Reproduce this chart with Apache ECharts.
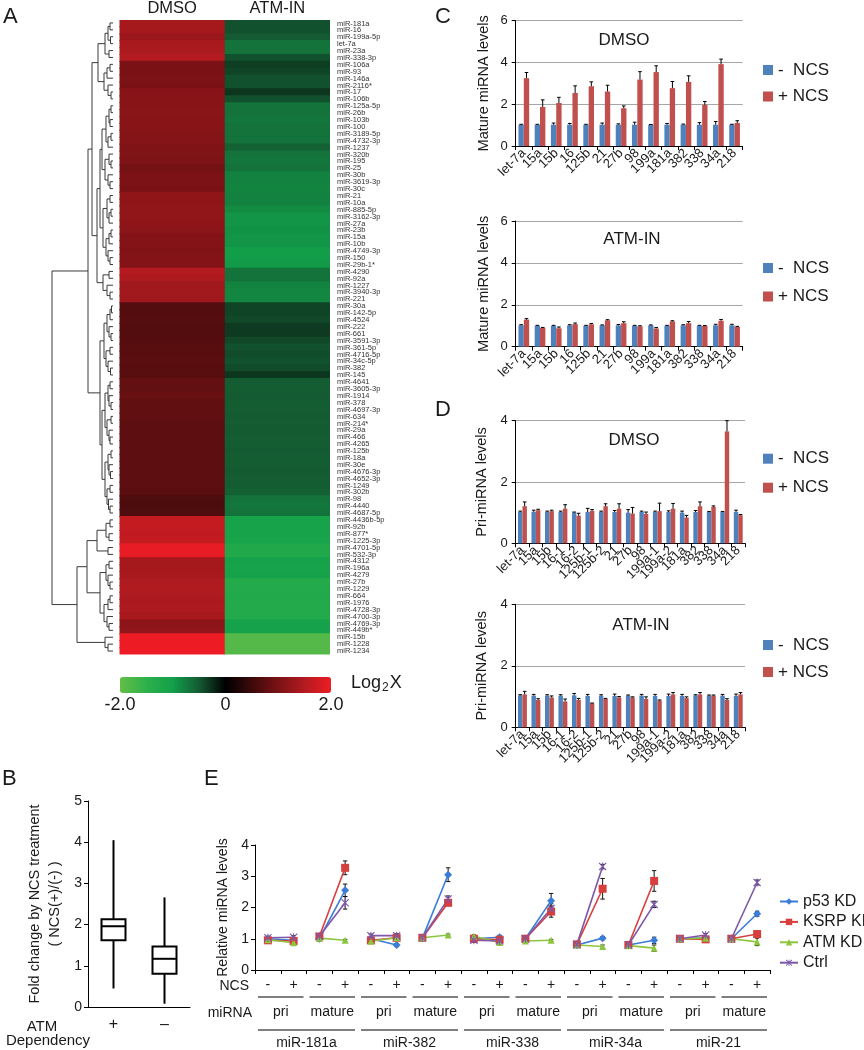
<!DOCTYPE html>
<html><head><meta charset="utf-8">
<script src="https://cdn.jsdelivr.net/npm/echarts@6/dist/echarts.min.js"></script>
<style>html,body{margin:0;padding:0;background:#fff}#c{width:864px;height:1050px}</style>
</head><body><div id="c"></div>
<script>
// ---------------- DATA ----------------
const mirLabels = ['miR-181a','miR-16','miR-199a-5p','let-7a','miR-23a','miR-338-3p','miR-106a','miR-93','miR-146a','miR-2116*','miR-17','miR-106b','miR-125a-5p','miR-26b','miR-103b','miR-100','miR-3189-5p','miR-4732-3p','miR-1237','miR-320b','miR-195','miR-25','miR-30b','miR-3619-3p','miR-30c','miR-21','miR-10a','miR-885-5p','miR-3162-3p','miR-27a','miR-23b','miR-15a','miR-10b','miR-4749-3p','miR-150','miR-29b-1*','miR-4290','miR-92a','miR-1227','miR-3940-3p','miR-221','miR-30a','miR-142-5p','miR-4524','miR-222','miR-661','miR-3591-3p','miR-361-5p','miR-4716-5p','miR-34c-5p','miR-382','miR-145','miR-4641','miR-3605-3p','miR-1914','miR-378','miR-4697-3p','miR-634','miR-214*','miR-29a','miR-466','miR-4265','miR-125b','miR-18a','miR-30e','miR-4676-3p','miR-4652-3p','miR-1249','miR-302b','miR-98','miR-4440','miR-4687-5p','miR-4436b-5p','miR-92b','miR-877*','miR-1225-3p','miR-4701-5p','miR-532-3p','miR-4312','miR-196a','miR-4279','miR-27b','miR-1229','miR-664','miR-1976','miR-4728-3p','miR-4700-3p','miR-4769-3p','miR-449b*','miR-15b','miR-1228','miR-1234'];
const heatCols = ['DMSO','ATM-IN'];
const dmsoLog2 = [1.38,1.38,1.3,1.4,1.42,1.5,1.0,1.0,1.02,1.0,1.12,1.12,1.12,1.14,1.12,1.12,1.1,1.1,1.05,1.05,1.03,0.95,1.02,1.02,1.0,1.18,1.18,1.2,1.2,1.18,1.15,1.08,1.08,1.06,1.08,1.08,1.5,1.45,1.32,1.35,1.32,0.68,0.68,0.7,0.68,0.68,0.7,0.72,0.72,0.74,0.72,0.72,0.82,0.8,0.85,0.8,0.8,0.8,0.75,0.75,0.76,0.75,0.75,0.77,0.75,0.75,0.76,0.75,0.74,0.65,0.62,0.65,1.65,1.65,1.62,1.65,1.95,1.95,1.38,1.38,1.4,1.45,1.48,1.45,1.42,1.45,1.4,1.15,1.18,2.0,2.0,2.0];
const atmLog2 = [-0.45,-0.45,-0.5,-0.68,-0.68,-0.45,-0.35,-0.38,-0.45,-0.45,-0.3,-0.45,-0.68,-0.68,-0.7,-0.68,-0.68,-0.68,-0.55,-0.68,-0.7,-0.68,-0.78,-0.78,-0.8,-0.78,-0.78,-0.85,-0.92,-0.92,-0.9,-0.92,-0.92,-0.98,-0.98,-0.96,-0.68,-0.68,-0.8,-0.82,-0.82,-0.38,-0.38,-0.4,-0.32,-0.32,-0.4,-0.45,-0.42,-0.45,-0.42,-0.3,-0.52,-0.52,-0.5,-0.52,-0.52,-0.5,-0.52,-0.5,-0.52,-0.52,-0.5,-0.52,-0.52,-0.5,-0.52,-0.52,-0.55,-0.68,-0.7,-0.68,-1.1,-1.1,-1.08,-1.12,-1.25,-1.25,-1.05,-1.08,-1.05,-1.3,-1.3,-1.28,-1.32,-1.3,-1.3,-1.05,-1.05,-1.85,-1.85,-1.85];
// dendrogram: [height, left, right], leaves = row index
const dendroTree = [61,
  [25,
    [21,
      [15, [8,[5,[3,0,1],[2.5,2,3]],[4,4,5]], [9,[6,[3,6,7],8],[5,9,[2,10,11]]]],
      [16,
        [13,
          [11,[7,[4,[2,12,13],[3,14,15]],[5,[2,16,17],18]],[8,[4,19,[2,20,21]],[5,22,[3,23,24]]]],
          [10,[6,[3,25,26],[4,[2,27,28],29]],[7,[4,[2,30,31],32],[5,33,[3,34,35]]]]
        ],
        [10,[4,36,37],[6,38,[3,39,40]]]
      ]
    ],
    [13,
      [9,[6,[3,[1.5,41,42],43],[4,44,[2,45,46]]],[7,[3,47,48],[5,49,[2.5,50,51]]]],
      [11,
        [8,[5,[3,52,53],[4,54,[2,55,56]]],[6,[2,57,58],[4,59,[3,60,61]]]],
        [8,[5,[2,62,63],[4,64,[2.5,65,66]]],[6,[3,67,68],[4.5,69,[3,70,71]]]]
      ]
    ]
  ],
  [36,
    [26,
      [16,[7,[3,72,73],[4,74,75]],[5,76,77]],
      [13,[7,[4,78,79],[5,80,[3,81,82]]],[9,[5,[3,83,84],85],[6,86,[4,87,88]]]]
    ],
    [8,89,[5,90,91]]
  ]
];
const colorbarTicks = [-2, 0, 2];

// Panel B box plot: [min, q1, median, q3, max]
const boxCats = ['+','\u2013'];
const boxStats = [[0.45,1.62,1.96,2.13,4.05],[0.08,0.81,1.17,1.47,2.66]];

// Panel C
const matureCats = ['let-7a','15a','15b','16','125b','21','27b','98','199a','181a','382','338','34a','218'];
const cDmsoMinus = [1.02,1.02,1.02,1.02,1.02,1.02,1.02,1.02,1.02,1.02,1.02,1.02,1.02,1.02];
const cDmsoMinusErr = [0.02,0.02,0.08,0.06,0.02,0.08,0.04,0.12,0.01,0.06,0.03,0.1,0.15,0.02];
const cDmsoPlus = [3.25,1.87,2.06,2.54,2.86,2.61,1.81,3.18,3.54,2.77,3.07,1.97,3.92,1.1];
const cDmsoPlusErr = [0.27,0.34,0.27,0.34,0.21,0.3,0.11,0.38,0.3,0.32,0.29,0.16,0.24,0.11];
const cAtmMinus = [1.02,1.0,1.0,1.02,1.0,1.02,1.02,1.0,1.02,1.0,1.02,1.0,1.02,1.02];
const cAtmMinusErr = [0.03,0.02,0.02,0.03,0.02,0.02,0.04,0.02,0.02,0.02,0.03,0.02,0.05,0.05];
const cAtmPlus = [1.29,0.9,0.88,1.08,1.07,1.26,1.12,0.97,0.87,1.21,1.12,0.99,1.24,0.94];
const cAtmPlusErr = [0.05,0.02,0.06,0.05,0.04,0.03,0.07,0.03,0.05,0.03,0.08,0.02,0.06,0.03];

// Panel D
const priCats = ['let-7a','15a','15b','16-1','16-2','125b-1','125b-2','21','27b','98','199a-1','199a-2','181a','382','338','34a','218'];
const dDmsoMinus = [1.02,1.03,1.02,1.02,1.0,1.02,1.02,1.02,1.0,1.02,1.02,1.02,1.0,1.02,1.02,1.02,1.02];
const dDmsoMinusErr = [0.03,0.05,0.03,0.03,0.02,0.12,0.03,0.05,0.1,0.03,0.03,0.04,0.05,0.05,0.02,0.02,0.06];
const dDmsoPlus = [1.21,1.08,1.05,1.13,0.9,1.06,1.21,1.13,0.97,0.96,1.05,1.13,0.84,1.21,1.19,3.65,0.92];
const dDmsoPlusErr = [0.14,0.03,0.03,0.13,0.08,0.04,0.08,0.16,0.2,0.06,0.26,0.17,0.07,0.14,0.03,0.35,0.02];
const dAtmMinus = [1.04,1.03,1.03,1.03,1.04,1.02,1.03,1.02,1.03,1.03,1.02,1.02,1.02,1.04,1.03,1.03,1.02];
const dAtmMinusErr = [0.02,0.04,0.03,0.03,0.06,0.05,0.03,0.06,0.02,0.04,0.05,0.06,0.05,0.02,0.02,0.04,0.06];
const dAtmPlus = [1.07,0.89,0.97,0.84,0.89,0.78,0.92,0.97,0.97,0.92,0.87,1.07,0.95,1.07,1.03,0.89,1.07];
const dAtmPlusErr = [0.1,0.04,0.05,0.08,0.05,0.01,0.02,0.03,0.02,0.07,0.02,0.06,0.04,0.06,0.02,0.04,0.06];

// Panel E
const eNcsCats = ['-','+','-','+','-','+','-','+','-','+','-','+','-','+','-','+','-','+','-','+'];
const eRnaCats = ['pri','mature','pri','mature','pri','mature','pri','mature','pri','mature'];
const eMirCats = ['miR-181a','miR-382','miR-338','miR-34a','miR-21'];
const p53Vals  = [1.0,0.95, 1.0,2.55, 1.0,0.8, 1.02,3.05, 1.0,1.05, 1.0,2.22, 0.8,1.02, 0.8,0.95, 1.0,1.03, 1.0,1.8];
const p53Errs  = [0.05,0.03, 0.08,0.2, 0.08,0.05, 0.03,0.22, 0.12,0.06, 0.05,0.23, 0.03,0.05, 0.06,0.1, 0.04,0.04, 0.05,0.08];
const ksrpVals = [0.95,0.93, 1.07,3.27, 0.95,1.03, 1.03,2.15, 1.0,0.97, 1.0,1.87, 0.82,2.6, 0.8,2.85, 1.0,0.98, 1.0,1.15];
const ksrpErrs = [0.04,0.03, 0.05,0.22, 0.06,0.05, 0.03,0.08, 0.05,0.08, 0.05,0.18, 0.02,0.33, 0.05,0.33, 0.05,0.05, 0.05,0.1];
const atmVals  = [0.97,0.87, 1.02,0.95, 0.92,1.03, 1.03,1.12, 1.08,0.88, 0.93,0.95, 0.8,0.75, 0.78,0.7, 1.0,1.02, 1.0,0.9];
const atmErrs  = [0.03,0.03, 0.03,0.03, 0.03,0.05, 0.03,0.03, 0.03,0.05, 0.03,0.03, 0.03,0.05, 0.05,0.1, 0.03,0.05, 0.05,0.12];
const ctrlVals = [1.03,1.05, 1.08,2.15, 1.1,1.1, 1.03,2.27, 0.95,0.93, 1.0,1.97, 0.82,3.31, 0.8,2.1, 1.0,1.12, 1.0,2.8];
const ctrlErrs = [0.05,0.05, 0.05,0.2, 0.05,0.06, 0.03,0.1, 0.05,0.05, 0.05,0.15, 0.03,0.07, 0.03,0.1, 0.03,0.05, 0.05,0.08];

// ---------------- BUILD ----------------
const FONT = '"Liberation Sans", Arial, Helvetica, sans-serif';
const BLUE = '#4f81bd', RED = '#c0504d', INK = '#1a1a1a';
const grids = [], xAxes = [], yAxes = [], series = [], legends = [], graphics = [];

function txt(x, y, text, size, align, extra) {
  graphics.push(Object.assign({type:'text', x:x, y:y, silent:true,
    style:{text:text, fontSize:size, fontFamily:FONT, fill:INK, align:align||'left', verticalAlign:'middle'}}, extra||{}));
}
const hidden = {show:false};
function hiddenAxis(gi, type, extra){ return Object.assign({gridIndex:gi, type:type, axisLine:hidden, axisTick:hidden, axisLabel:hidden, splitLine:hidden}, extra||{}); }

// G0 dendrogram
grids[0] = {left:52, top:19.5, width:61, height:635};
xAxes[0] = hiddenAxis(0, 'value', {min:0, max:61, inverse:true});
yAxes[0] = hiddenAxis(0, 'value', {min:-0.5, max:91.5, inverse:true});
const dendroSegs = [];
(function walk(node){
  if (typeof node === 'number') return {h:0, y:node};
  const A = walk(node[1]), B = walk(node[2]), h = node[0];
  dendroSegs.push([A.h, A.y, h, A.y], [B.h, B.y, h, B.y], [h, A.y, h, B.y]);
  return {h:h, y:(A.y + B.y) / 2};
})(dendroTree);
series.push({type:'custom', xAxisIndex:0, yAxisIndex:0, data:dendroSegs, encode:{x:[0,2], y:[1,3]}, silent:true,
  renderItem:function(p, api){
    const a = api.coord([api.value(0), api.value(1)]), b = api.coord([api.value(2), api.value(3)]);
    return {type:'line', shape:{x1:a[0], y1:a[1], x2:b[0], y2:b[1]}, style:{stroke:'#3a3a3a', lineWidth:1}};
  }});

// G1 heatmap (cells drawn slightly overlapping to avoid seams)
grids[1] = {left:119.5, top:19.5, width:210.5, height:635};
xAxes[1] = {gridIndex:1, type:'category', data:heatCols, position:'top', axisLine:hidden, axisTick:hidden, splitLine:hidden,
  axisLabel:{fontSize:16.5, fontFamily:FONT, color:INK, margin:3}};
yAxes[1] = {gridIndex:1, type:'category', data:mirLabels, inverse:true, position:'right', axisLine:hidden, axisTick:hidden, splitLine:hidden,
  axisLabel:{fontSize:7.5, fontFamily:FONT, color:'#333', margin:7, interval:0}};
const heatData = [];
mirLabels.forEach(function(_, i){ heatData.push([0, i, dmsoLog2[i]], [1, i, atmLog2[i]]); });
const HEAT_IDX = series.length;
series.push({type:'custom', xAxisIndex:1, yAxisIndex:1, data:heatData, encode:{x:0, y:1}, silent:true,
  renderItem:function(p, api){
    const c = api.coord([api.value(0), api.value(1)]), s = api.size([1, 1]);
    const first = api.value(1) === 0, last = api.value(1) === mirLabels.length - 1;
    const y0 = c[1] - s[1] / 2 - (first ? 0 : 0.6), y1 = c[1] + s[1] / 2 + (last ? 0 : 0.6);
    return {type:'rect', shape:{x:c[0] - s[0] / 2, y:y0, width:s[0] + (api.value(0) === 0 ? 0.5 : 0), height:y1 - y0},
      style:{fill:api.visual('color')}};
  }});

// G2 colorbar tick labels
grids[2] = {left:120, top:677, width:211, height:16};
xAxes[2] = {gridIndex:2, type:'value', min:colorbarTicks[0], max:colorbarTicks[2], interval:2, axisLine:hidden, axisTick:hidden, splitLine:hidden,
  axisLabel:{fontSize:18, fontFamily:FONT, color:INK, margin:3, formatter:function(v){ return v === 0 ? '0' : v.toFixed(1); }}};
yAxes[2] = hiddenAxis(2, 'value', {min:0, max:1});
series.push({type:'scatter', xAxisIndex:2, yAxisIndex:2, data:[], silent:true});

// G3 box plot
grids[3] = {left:88, top:801, width:102, height:206};
xAxes[3] = {gridIndex:3, type:'category', data:boxCats, axisLine:{lineStyle:{color:'#000', width:1}}, axisTick:hidden, splitLine:hidden,
  axisLabel:{fontSize:16, fontFamily:FONT, color:INK, margin:10}};
yAxes[3] = {gridIndex:3, type:'value', min:0, max:5, interval:1, axisLine:{show:true, lineStyle:{color:'#000'}}, axisTick:{show:true, length:4, lineStyle:{color:'#000'}},
  splitLine:hidden, axisLabel:{fontSize:14, fontFamily:FONT, color:INK, margin:6},
  name:'Fold change by NCS treatment\n( NCS(+)/(-) )', nameLocation:'middle', nameGap:23, nameRotate:90,
  nameTextStyle:{fontSize:14.5, fontFamily:FONT, color:INK, lineHeight:20}};
series.push({type:'custom', xAxisIndex:3, yAxisIndex:3, silent:true,
  data:boxStats.map(function(s, i){ return [i].concat(s); }), encode:{x:0, y:[1,2,3,4,5]},
  renderItem:function(p, api){
    const i = api.value(0);
    const pt = [1,2,3,4,5].map(function(k){ return api.coord([i, api.value(k)]); });
    const cx = pt[0][0], hw = 12, st = {stroke:'#000', lineWidth:2, fill:'none'};
    return {type:'group', children:[
      {type:'line', shape:{x1:cx, y1:pt[0][1], x2:cx, y2:pt[1][1]}, style:{stroke:'#000', lineWidth:2}},
      {type:'line', shape:{x1:cx, y1:pt[3][1], x2:cx, y2:pt[4][1]}, style:{stroke:'#000', lineWidth:2}},
      {type:'rect', shape:{x:cx-hw, y:pt[3][1], width:2*hw, height:pt[1][1]-pt[3][1]}, style:st},
      {type:'line', shape:{x1:cx-hw, y1:pt[2][1], x2:cx+hw, y2:pt[2][1]}, style:{stroke:'#000', lineWidth:2}}
    ]};
  }});

// Bar panels C & D
function errRenderer(side){
  return function(p, api){
    const i = api.value(0), v = api.value(1), e = api.value(2);
    const bw = api.size([1, 0])[0] * 0.33;
    const b = api.coord([i, v]), t = api.coord([i, v + e]);
    const cx = b[0] + side * bw / 2;
    return {type:'group', children:[
      {type:'line', shape:{x1:cx, y1:b[1], x2:cx, y2:t[1]}, style:{stroke:'#000', lineWidth:1}},
      {type:'line', shape:{x1:cx-1.8, y1:t[1], x2:cx+1.8, y2:t[1]}, style:{stroke:'#000', lineWidth:1}}
    ]};
  };
}
function barPanel(gi, box, cats, ymax, yName, nameGap, mV, mE, pV, pE, legendTop, legendGap){
  grids[gi] = box;
  xAxes[gi] = {gridIndex:gi, type:'category', data:cats, axisLine:{lineStyle:{color:'#000'}}, axisTick:{show:true, length:4, lineStyle:{color:'#000'}},
    splitLine:hidden, axisLabel:{rotate:45, fontSize:13, fontFamily:FONT, color:INK, margin:5, interval:0}};
  yAxes[gi] = {gridIndex:gi, type:'value', min:0, max:ymax, interval:2, axisLine:{show:true, lineStyle:{color:'#000'}},
    axisTick:{show:true, length:4, lineStyle:{color:'#000'}}, splitLine:{show:true, lineStyle:{color:'#a6a6a6', width:1}},
    axisLabel:{fontSize:13, fontFamily:FONT, color:INK, margin:8},
    name:yName, nameLocation:'middle', nameGap:nameGap, nameRotate:90, nameTextStyle:{fontSize:14.5, fontFamily:FONT, color:INK}};
  series.push({type:'bar', name:'-  NCS', xAxisIndex:gi, yAxisIndex:gi, data:mV, barWidth:'33%', barGap:'0%', itemStyle:{color:BLUE}, silent:true});
  series.push({type:'bar', name:'+ NCS', xAxisIndex:gi, yAxisIndex:gi, data:pV, barWidth:'33%', barGap:'0%', itemStyle:{color:RED}, silent:true});
  series.push({type:'custom', xAxisIndex:gi, yAxisIndex:gi, z:5, silent:true, encode:{x:0, y:1},
    data:mV.map(function(v, i){ return [i, v, mE[i]]; }), renderItem:errRenderer(-1)});
  series.push({type:'custom', xAxisIndex:gi, yAxisIndex:gi, z:5, silent:true, encode:{x:0, y:1},
    data:pV.map(function(v, i){ return [i, v, pE[i]]; }), renderItem:errRenderer(1)});
  legends.push({left:763, top:legendTop, orient:'vertical', icon:'rect', itemWidth:10, itemHeight:10, itemGap:legendGap, padding:0,
    selectedMode:false, data:['-  NCS','+ NCS'], textStyle:{fontSize:17, fontFamily:FONT, color:INK}});
}
barPanel(4, {left:515.7, top:20.7, width:227, height:125.3}, matureCats, 6, 'Mature miRNA levels', 24, cDmsoMinus, cDmsoMinusErr, cDmsoPlus, cDmsoPlusErr, 61.5, 9.5);
barPanel(5, {left:515.7, top:221, width:227, height:125.7}, matureCats, 6, 'Mature miRNA levels', 24, cAtmMinus, cAtmMinusErr, cAtmPlus, cAtmPlusErr, 259.5, 11.5);
barPanel(6, {left:515.7, top:420.7, width:229.3, height:122.6}, priCats, 4, 'Pri-miRNA levels', 26, dDmsoMinus, dDmsoMinusErr, dDmsoPlus, dDmsoPlusErr, 450.2, 12);
barPanel(7, {left:515.7, top:604.3, width:229.3, height:123}, priCats, 4, 'Pri-miRNA levels', 26, dAtmMinus, dAtmMinusErr, dAtmPlus, dAtmPlusErr, 636.5, 10);

// Panel E
const eBox = {left:255, top:845, width:515, height:125};
grids[8] = eBox; grids[9] = Object.assign({}, eBox); grids[10] = Object.assign({}, eBox);
xAxes[8] = {gridIndex:8, type:'category', data:eNcsCats, axisLine:{lineStyle:{color:'#000'}}, axisTick:{show:true, length:4, lineStyle:{color:'#000'}},
  splitLine:hidden, axisLabel:{fontSize:14, fontFamily:FONT, color:INK, margin:8.5, interval:0}};
yAxes[8] = {gridIndex:8, type:'value', min:0, max:4, interval:1, axisLine:{show:true, lineStyle:{color:'#000'}},
  axisTick:{show:true, length:4, lineStyle:{color:'#000'}}, splitLine:hidden, axisLabel:{fontSize:14, fontFamily:FONT, color:INK, margin:6},
  name:'Relative miRNA levels', nameLocation:'middle', nameGap:25, nameRotate:90, nameTextStyle:{fontSize:14, fontFamily:FONT, color:INK}};
xAxes[9] = {gridIndex:9, type:'category', data:eRnaCats, axisLine:hidden, axisTick:hidden, splitLine:hidden,
  axisLabel:{fontSize:14, fontFamily:FONT, color:INK, margin:35.5, interval:0}};
yAxes[9] = hiddenAxis(9, 'value', {min:0, max:4});
xAxes[10] = {gridIndex:10, type:'category', data:eMirCats, axisLine:hidden, axisTick:hidden, splitLine:hidden,
  axisLabel:{fontSize:14, fontFamily:FONT, color:INK, margin:67.5, interval:0}};
yAxes[10] = hiddenAxis(10, 'value', {min:0, max:4});
series.push({type:'scatter', xAxisIndex:9, yAxisIndex:9, data:[], silent:true});
series.push({type:'scatter', xAxisIndex:10, yAxisIndex:10, data:[], silent:true});

const XPATH = 'path://M1,0L5,4L9,0L10,1L6,5L10,9L9,10L5,6L1,10L0,9L4,5L0,1Z M4.4,0L5.6,0L5.6,10L4.4,10Z';
const eDefs = [
  {name:'p53 KD', vals:p53Vals, errs:p53Errs, color:'#3b7dd6', symbol:'diamond', size:8},
  {name:'KSRP KD', vals:ksrpVals, errs:ksrpErrs, color:'#d63f3c', symbol:'rect', size:8},
  {name:'ATM KD', vals:atmVals, errs:atmErrs, color:'#8cc63f', symbol:'triangle', size:7},
  {name:'Ctrl', vals:ctrlVals, errs:ctrlErrs, color:'#7d58a8', symbol:XPATH, size:8}
];
eDefs.forEach(function(d){
  series.push({type:'custom', xAxisIndex:8, yAxisIndex:8, z:3, silent:true, encode:{x:0, y:1},
    data:d.vals.map(function(v, i){ return [i, v, d.errs[i]]; }),
    renderItem:function(p, api){
      const i = api.value(0), v = api.value(1), e = api.value(2);
      const lo = api.coord([i, v - e]), hi = api.coord([i, v + e]), x = lo[0];
      const st = {stroke:'#111', lineWidth:1};
      return {type:'group', children:[
        {type:'line', shape:{x1:x, y1:lo[1], x2:x, y2:hi[1]}, style:st},
        {type:'line', shape:{x1:x-2.2, y1:lo[1], x2:x+2.2, y2:lo[1]}, style:st},
        {type:'line', shape:{x1:x-2.2, y1:hi[1], x2:x+2.2, y2:hi[1]}, style:st}
      ]};
    }});
});
eDefs.forEach(function(d){
  eRnaCats.forEach(function(_, pair){
    series.push({type:'line', name:d.name, xAxisIndex:8, yAxisIndex:8, z:4, silent:true, connectNulls:false,
      data:d.vals.map(function(v, i){ return Math.floor(i / 2) === pair ? v : null; }),
      symbol:d.symbol, symbolSize:d.size, showAllSymbol:true,
      lineStyle:{color:d.color, width:1.6}, itemStyle:{color:d.color, borderWidth:0}});
  });
});
// bracket lines under the NCS row (pairs) and the miRNA row (groups)
const brackets = [];
eRnaCats.forEach(function(_, k){ brackets.push([2*k, 2*k+1, 0, 27]); });
eMirCats.forEach(function(_, k){ brackets.push([4*k, 4*k+3, 0, 60]); });
series.push({type:'custom', xAxisIndex:8, yAxisIndex:8, silent:true, clip:false, encode:{x:[0,1], y:2}, data:brackets,
  renderItem:function(p, api){
    const band = api.size([1, 0])[0];
    const a = api.coord([api.value(0), 0]), b = api.coord([api.value(1), 0]), dy = api.value(3);
    return {type:'line', shape:{x1:a[0]-band/2+3, y1:a[1]+dy, x2:b[0]+band/2-3, y2:a[1]+dy}, style:{stroke:'#555', lineWidth:1.3}};
  }});
legends.push({left:779, top:893.5, orient:'vertical', itemWidth:18, itemHeight:8, itemGap:4.4, padding:0, selectedMode:false,
  data:eDefs.map(function(d){ return d.name; }), textStyle:{fontSize:16, fontFamily:FONT, color:INK}});

// Text
txt(3, 17, 'A', 22); txt(435, 17, 'C', 22); txt(435, 410, 'D', 22); txt(2, 779, 'B', 22); txt(204, 779, 'E', 22);
txt(624, 40, 'DMSO', 17, 'center'); txt(632, 239, 'ATM-IN', 17, 'center');
txt(634, 440, 'DMSO', 17, 'center'); txt(641, 625, 'ATM-IN', 17, 'center');
txt(249, 986, 'NCS', 14, 'right'); txt(252, 1013, 'miRNA', 14, 'right');
txt(42, 1027, 'ATM', 15, 'center'); txt(48, 1041, 'Dependency', 15, 'center');
graphics.push({type:'text', x:351, y:683, silent:true, style:{text:'{a|Log}{b|2}{a|X}', fontFamily:FONT, fill:INK, verticalAlign:'middle',
  rich:{a:{fontSize:18, fontFamily:FONT, fill:INK}, b:{fontSize:12, fontFamily:FONT, fill:INK, padding:[9,1,0,1]}}}});

const chart = echarts.init(document.getElementById('c'), null, {renderer:'canvas'});
chart.setOption({
  animation:false,
  backgroundColor:'#fff',
  textStyle:{fontFamily:FONT},
  grid:grids, xAxis:xAxes, yAxis:yAxes, series:series, legend:legends, graphic:graphics,
  visualMap:[{type:'continuous', min:-2, max:2, dimension:2, seriesIndex:HEAT_IDX, orient:'horizontal', left:120, top:677,
    itemWidth:16, itemHeight:211, calculable:false, hoverLink:false, padding:0, text:null, showLabel:false,
    inRange:{color:['#64bd46','#2db04b','#12a04a','#145a32','#000000','#3d0a0b','#7a1215','#b31b20','#ed1c24']}}]
});
</script></body></html>
